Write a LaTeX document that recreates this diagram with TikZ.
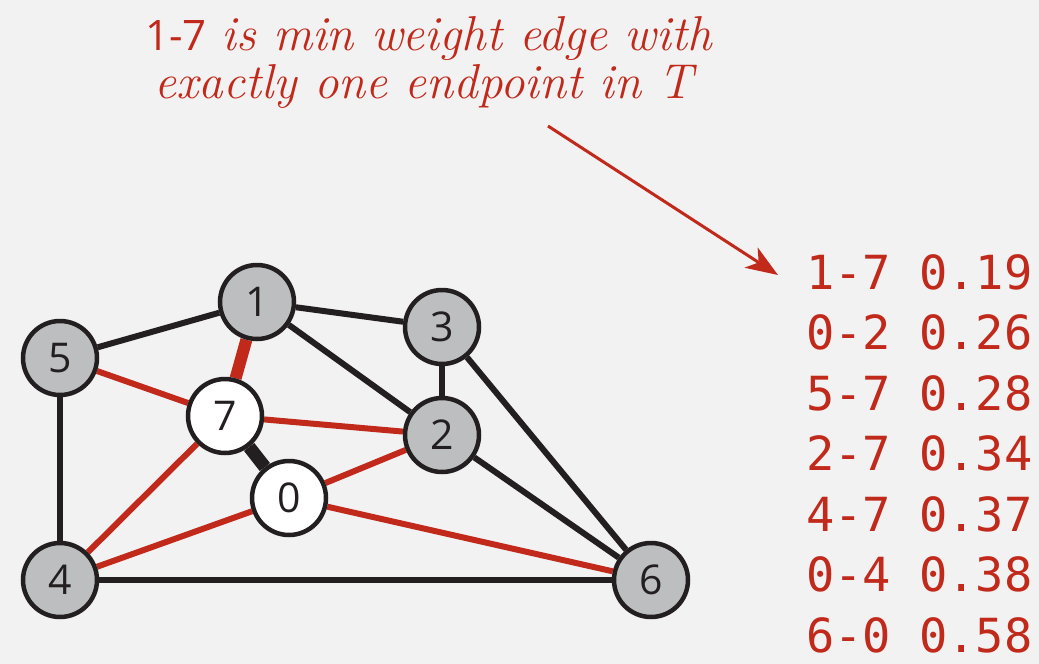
\documentclass[tikz,border=0pt]{standalone}
\usepackage{fontspec}
\setsansfont{Open Sans}
\setmonofont{DejaVu Sans Mono}
\usepackage{tikz}
\usetikzlibrary{arrows.meta}
\usepackage{xcolor}
\definecolor{paper}{HTML}{F2F2F2}
\definecolor{vgray}{HTML}{BCBEC0}
\definecolor{cutred}{HTML}{C1291B}
\definecolor{ink}{HTML}{231F20}
\pgfdeclarelayer{under}
\pgfsetlayers{under,main}

\begin{document}
\begin{tikzpicture}[x=1pt, y=-1pt,
  vtx/.style={circle, draw=ink, line width=4.5pt, fill=vgray, minimum size=74pt,
    inner sep=0pt, font=\sffamily\fontsize{41}{41}\selectfont, text=ink},
  invtx/.style={vtx, fill=white},
  edge/.style={ink, line width=6pt},
  cross/.style={cutred, line width=6pt},
  note/.style={text=cutred, anchor=base, font=\fontsize{49}{49}\selectfont},
  pq/.style={text=cutred, anchor=base west, inner sep=0pt, font=\ttfamily\fontsize{47}{47}\selectfont}]

  % --- canvas ---
  \begin{pgfonlayer}{under}
    \fill[paper] (0,0) rectangle (1039,664);
  \end{pgfonlayer}
  \useasboundingbox (0,0) rectangle (1039,664);

  % --- vertices ---
  \node[vtx] (v1) at (257,302) {1};
  \node[vtx] (v5) at (60,358) {5};
  \node[vtx] (v3) at (442,327) {3};
  \node[invtx] (v7) at (225,416) {7};
  \node[vtx] (v2) at (442,435) {2};
  \node[invtx] (v0) at (289,498) {0};
  \node[vtx] (v4) at (60,580) {4};
  \node[vtx] (v6) at (651,580) {6};

  % --- edges ---
  \begin{pgfonlayer}{under}
    \draw[edge] (v5) -- (v1);
    \draw[edge] (v1) -- (v3);
    \draw[edge] (v1) -- (v2);
    \draw[edge] (v3) -- (v2);
    \draw[edge] (v3) -- (v6);
    \draw[edge] (v2) -- (v6);
    \draw[edge] (v5) -- (v4);
    \draw[edge] (v4) -- (v6);
    \draw[edge, line width=13pt] (v7) -- (v0);
    \draw[cross, line width=12pt] (v1) -- (v7);
    \draw[cross] (v5) -- (v7);
    \draw[cross] (v7) -- (v2);
    \draw[cross] (v7) -- (v4);
    \draw[cross] (v0) -- (v2);
    \draw[cross] (v0) -- (v4);
    \draw[cross] (v0) -- (v6);
  \end{pgfonlayer}

  % --- annotation ---
  \node[note] (note1) at (429,50) {{\sffamily\fontsize{42}{42}\selectfont 1-7} \textit{is min weight edge with}};
  \node[note] (note2) at (426,98) {\textit{exactly one endpoint in T}};
  \coordinate (tail) at (548,126);
  \coordinate (head) at (778,275);
  \draw[cutred, line width=3pt, -{Stealth[length=32pt, width=24pt, inset=9pt]}] (tail) -- (head);

  % --- priority queue ---
  \node[pq] (e17) at (806,289) {1-7 0.19};
  \node[pq] (e02) at (806,349.5) {0-2 0.26};
  \node[pq] (e57) at (806,410) {5-7 0.28};
  \node[pq] (e27) at (806,470.5) {2-7 0.34};
  \node[pq] (e47) at (806,531) {4-7 0.37};
  \node[pq] (e04) at (806,591.5) {0-4 0.38};
  \node[pq] (e60) at (806,652) {6-0 0.58};
\end{tikzpicture}
\end{document}
